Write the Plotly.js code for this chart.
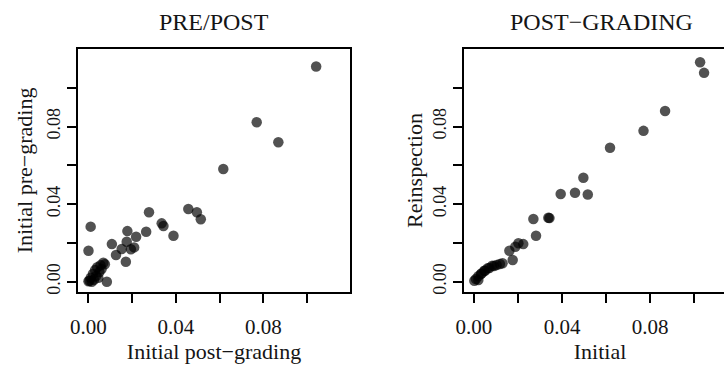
<!DOCTYPE html>
<html>
<head>
<meta charset="utf-8">
<script src="https://cdn.plot.ly/plotly-3.0.1.min.js"></script>
<style>
html,body{margin:0;padding:0;overflow:hidden;background:#fff;width:724px;height:365px;}
#chart{width:760px;height:365px;}
</style>
</head>
<body>
<div id="chart"></div>
<script>
// Left panel: PRE/POST
const postGradingX = [0.1042,0.0770,0.0869,0.0617,0.0457,0.0496,0.0514,0.0277,0.0335,0.0343,0.0389,0.0264,0.0010,0.0178,0.0218,0.0175,0.0209,0.0194,0.0152,0.0107,0.0126,0.0171,0.0000,0.0084,
  0.0068,0.0055,0.0040,0.0030,0.0050,0.0020,0.0035,0.0010,0.0025,0.0005,0.0000,0.0015,0.0045,0.0060,0.0075];
const preGradingY = [0.1110,0.0822,0.0719,0.0581,0.0375,0.0358,0.0322,0.0358,0.0301,0.0287,0.0237,0.0258,0.0284,0.0261,0.0232,0.0206,0.0177,0.0167,0.0169,0.0194,0.0138,0.0103,0.0160,0.0000,
  0.0098,0.0085,0.0075,0.0060,0.0050,0.0040,0.0030,0.0020,0.0010,0.0005,0.0002,0.0000,0.0020,0.0065,0.0090];

// Right panel: POST-GRADING
const initialX = [0.1027,0.1045,0.0868,0.0770,0.0618,0.0497,0.0459,0.0517,0.0394,0.0338,0.0343,0.0270,0.0282,0.0224,0.0202,0.0161,0.0176,0.0188,0.0130,0.0103,0.0118,0.0091,0.0083,0.0070,0.0062,0.0050,0.0047,0.0035,0.0032,0.0020,0.0020,0.0009,0.0002];
const reinspY  = [0.1132,0.1077,0.0880,0.0778,0.0691,0.0536,0.0459,0.0450,0.0452,0.0330,0.0328,0.0323,0.0237,0.0194,0.0198,0.0160,0.0112,0.0180,0.0095,0.0086,0.0091,0.0081,0.0082,0.0071,0.0069,0.0057,0.0057,0.0043,0.0040,0.0028,0.0009,0.0014,0.0005];

const tickVals = [0, 0.02, 0.04, 0.06, 0.08, 0.10];
const tickText = ['0.00', '', '0.04', '', '0.08', ''];
const panelTitles = ['PRE/POST', 'POST\u2212GRADING'];
const xTitles = ['Initial post\u2212grading', 'Initial'];
const yTitles = ['Initial pre\u2212grading', 'Reinspection'];

const W = 760, H = 365;
const FONT = 'Liberation Serif, Times New Roman, serif';
const INK = '#151515';
const marker = {size: 10.5, color: 'rgba(0,0,0,0.68)', line: {width: 0}};

const traces = [
  {x: postGradingX, y: preGradingY, type: 'scatter', mode: 'markers', marker: marker, xaxis: 'x', yaxis: 'y', hoverinfo: 'x+y'},
  {x: initialX, y: reinspY, type: 'scatter', mode: 'markers', marker: marker, xaxis: 'x2', yaxis: 'y2', hoverinfo: 'x+y'}
];

function xAxis(dom, rng, title) {
  return {
    domain: dom, range: rng, tickmode: 'array', tickvals: tickVals, ticktext: tickText,
    showline: true, mirror: true, linecolor: '#000', linewidth: 2,
    ticks: 'outside', ticklen: 9, tickwidth: 2, tickcolor: '#000',
    showgrid: false, zeroline: false, ticklabelstandoff: 6,
    tickfont: {family: FONT, size: 21, color: INK},
    title: {text: title, font: {family: FONT, size: 22, color: INK}, standoff: 2}
  };
}
function yAxis(dom, rng, title, anchor, standoff) {
  return {
    domain: dom, range: rng, anchor: anchor, tickmode: 'array', tickvals: tickVals, ticktext: tickText,
    showline: true, mirror: true, linecolor: '#000', linewidth: 2,
    ticks: 'outside', ticklen: 9, tickwidth: 2, tickcolor: '#000', tickangle: -90,
    showgrid: false, zeroline: false, ticklabelstandoff: 0,
    tickfont: {family: FONT, size: 18, color: INK},
    title: {text: title, font: {family: FONT, size: 22, color: INK}, standoff: standoff}
  };
}

const yDom = [(H - 292) / H, (H - 49) / H];
const layout = {
  width: W, height: H,
  margin: {l: 0, r: 0, t: 0, b: 0},
  paper_bgcolor: '#fff', plot_bgcolor: '#fff',
  showlegend: false,
  xaxis: Object.assign(xAxis([78 / W, 350 / W], [-0.0048, 0.1197], xTitles[0]), {anchor: 'y'}),
  yaxis: yAxis(yDom, [-0.0053, 0.12], yTitles[0], 'x', 5),
  xaxis2: Object.assign(xAxis([464 / W, 736 / W], [-0.0045, 0.119], xTitles[1]), {anchor: 'y2'}),
  yaxis2: yAxis(yDom, [-0.0053, 0.12], yTitles[1], 'x2', 1),
  annotations: [
    {text: panelTitles[0], xref: 'paper', yref: 'paper', x: 214 / W, y: (H - 22) / H, xanchor: 'center', yanchor: 'middle', showarrow: false, font: {family: FONT, size: 24, color: INK}},
    {text: panelTitles[1], xref: 'paper', yref: 'paper', x: 601 / W, y: (H - 22) / H, xanchor: 'center', yanchor: 'middle', showarrow: false, font: {family: FONT, size: 24, color: INK}}
  ]
};

Plotly.newPlot('chart', traces, layout, {displayModeBar: false, staticPlot: true});
</script>
</body>
</html>
